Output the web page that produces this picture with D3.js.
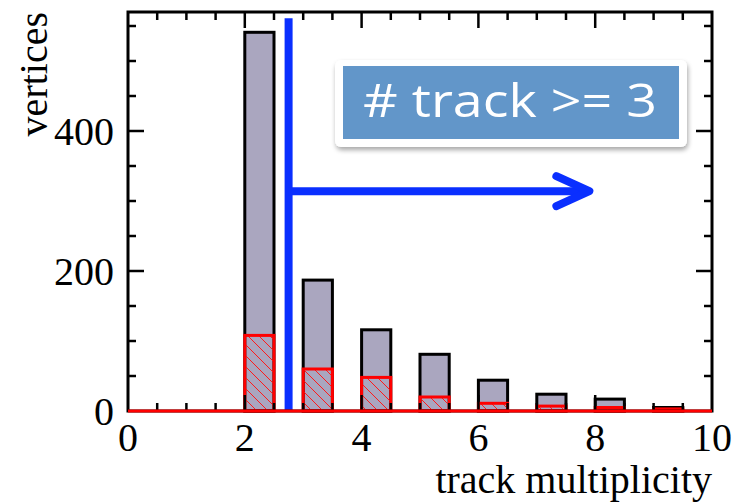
<!DOCTYPE html>
<html>
<head>
<meta charset="utf-8">
<script src="https://cdn.jsdelivr.net/npm/d3@7"></script>
<style>
  html, body { margin: 0; padding: 0; background: #fff; }
  svg { display: block; }
</style>
</head>
<body>
<svg id="chart" width="736" height="502"></svg>
<script>
// Track multiplicity per vertex: all vertices vs. selected subset
const binStarts = [0, 1, 2, 3, 4, 5, 6, 7, 8, 9];
const allVertices = [0, 0, 541, 187, 116, 81, 44, 24, 17, 5];
const selectedVertices = [0, 0, 108, 60, 48, 20, 11, 7, 5, 3];
const xTickValues = [0, 2, 4, 6, 8, 10];
const yTickValues = [0, 200, 400];
const cutValue = 2.75;
const arrowEnd = 7.9;
const arrowLevel = 314;
const cutTop = 561;
const labelText = "# track >= 3";

const svg = d3.select("#chart");
const margin = { left: 128, right: 24, top: 12, bottom: 91 };
const W = 736, H = 502;

const x = d3.scaleLinear().domain([0, 10]).range([margin.left, W - margin.right]);
const y = d3.scaleLinear().domain([0, 570]).range([H - margin.bottom, margin.top]);

const serif = "'Liberation Serif', 'Times New Roman', serif";

// hatch pattern for the selected histogram
const defs = svg.append("defs");
const pat = defs.append("pattern")
  .attr("id", "hatch")
  .attr("patternUnits", "userSpaceOnUse")
  .attr("width", 11).attr("height", 11);
pat.append("path")
  .attr("d", "M-2,-2 L13,13 M-2,9 L2,13 M9,-2 L13,2")
  .attr("stroke", "#ff1a1a").attr("stroke-width", 1);

const shadow = defs.append("filter").attr("id", "shadow")
  .attr("x", "-10%").attr("y", "-20%").attr("width", "130%").attr("height", "150%");
shadow.append("feGaussianBlur").attr("in", "SourceAlpha").attr("stdDeviation", 2.5);
shadow.append("feOffset").attr("dx", 1).attr("dy", 3).attr("result", "b");
shadow.append("feComponentTransfer").append("feFuncA").attr("type", "linear").attr("slope", 0.35);
const merge = shadow.append("feMerge");
merge.append("feMergeNode");
merge.append("feMergeNode").attr("in", "SourceGraphic");

const allData = binStarts.map((b, i) => ({ b, v: allVertices[i] })).filter(d => d.v > 0);
const selData = binStarts.map((b, i) => ({ b, v: selectedVertices[i] })).filter(d => d.v > 0);

// all vertices: grey bars with black outline
svg.append("g").selectAll("rect").data(allData).join("rect")
  .attr("x", d => x(d.b))
  .attr("y", d => y(d.v))
  .attr("width", d => x(d.b + 0.5) - x(d.b))
  .attr("height", d => y(0) - y(d.v))
  .attr("fill", "#aaa6bf")
  .attr("stroke", "#000")
  .attr("stroke-width", 3);

// selected vertices: red hatched bars
svg.append("g").selectAll("rect").data(selData).join("rect")
  .attr("x", d => x(d.b))
  .attr("y", d => y(d.v))
  .attr("width", d => x(d.b + 0.5) - x(d.b))
  .attr("height", d => y(0) - y(d.v))
  .attr("fill", "url(#hatch)")
  .attr("stroke", "#ff0000")
  .attr("stroke-width", 3);

// cut line and arrow
const blue = "#0a2fff";
svg.append("line")
  .attr("x1", x(cutValue)).attr("x2", x(cutValue))
  .attr("y1", y(cutTop)).attr("y2", y(0) - 1)
  .attr("stroke", blue).attr("stroke-width", 8);
svg.append("line")
  .attr("x1", x(cutValue)).attr("x2", x(arrowEnd) - 3)
  .attr("y1", y(arrowLevel)).attr("y2", y(arrowLevel))
  .attr("stroke", blue).attr("stroke-width", 8);
svg.append("path")
  .attr("d", `M${x(arrowEnd) - 33},${y(arrowLevel) - 15} L${x(arrowEnd)},${y(arrowLevel)} L${x(arrowEnd) - 33},${y(arrowLevel) + 15}`)
  .attr("fill", "none").attr("stroke", blue).attr("stroke-width", 8)
  .attr("stroke-linecap", "round").attr("stroke-linejoin", "round");

// frame and ticks
const frame = svg.append("g");
frame.append("rect")
  .attr("x", x(0)).attr("y", y(570))
  .attr("width", x(10) - x(0)).attr("height", y(0) - y(570))
  .attr("fill", "none").attr("stroke", "#000").attr("stroke-width", 3);

const xMinor = d3.range(0.5, 10, 0.5);
const yMinor = d3.range(50, 570, 50);
frame.selectAll(".xt").data(xMinor).join("g").each(function (v) {
  const len = Number.isInteger(v / 2) ? 16 : 8;
  const g = d3.select(this);
  g.append("line").attr("x1", x(v)).attr("x2", x(v))
    .attr("y1", y(570)).attr("y2", y(570) + len)
    .attr("stroke", "#000").attr("stroke-width", 2.5);
  g.append("line").attr("x1", x(v)).attr("x2", x(v))
    .attr("y1", y(0)).attr("y2", y(0) - len)
    .attr("stroke", "#000").attr("stroke-width", 2.5);
});
frame.selectAll(".yt").data(yMinor).join("g").each(function (v) {
  const len = v % 200 === 0 ? 16 : 8;
  const g = d3.select(this);
  g.append("line").attr("x1", x(0)).attr("x2", x(0) + len)
    .attr("y1", y(v)).attr("y2", y(v))
    .attr("stroke", "#000").attr("stroke-width", 2.5);
  g.append("line").attr("x1", x(10)).attr("x2", x(10) - len)
    .attr("y1", y(v)).attr("y2", y(v))
    .attr("stroke", "#000").attr("stroke-width", 2.5);
});

// baseline of the red histogram, drawn over the bottom frame edge
svg.append("line")
  .attr("x1", x(0)).attr("x2", x(10))
  .attr("y1", y(0)).attr("y2", y(0))
  .attr("stroke", "#ff0000").attr("stroke-width", 3);

// tick labels
svg.append("g").selectAll("text").data(xTickValues).join("text")
  .attr("x", d => x(d)).attr("y", y(0) + 40)
  .attr("text-anchor", "middle")
  .attr("font-family", serif).attr("font-size", 40)
  .text(d => d);
svg.append("g").selectAll("text").data(yTickValues).join("text")
  .attr("x", x(0) - 14).attr("y", d => y(d) + 14)
  .attr("text-anchor", "end")
  .attr("font-family", serif).attr("font-size", 40)
  .text(d => d);

// axis titles
svg.append("text")
  .attr("x", x(10)).attr("y", 493)
  .attr("text-anchor", "end")
  .attr("font-family", serif).attr("font-size", 40)
  .text("track multiplicity");
svg.append("text")
  .attr("transform", `translate(47,12) rotate(-90)`)
  .attr("text-anchor", "end")
  .attr("font-family", serif).attr("font-size", 40)
  .text("vertices");

// label box
const box = svg.append("g");
box.append("rect")
  .attr("x", 335).attr("y", 60).attr("width", 352).attr("height", 87)
  .attr("rx", 6).attr("fill", "#fff").attr("filter", "url(#shadow)");
box.append("rect")
  .attr("x", 343).attr("y", 66).attr("width", 336).attr("height", 73)
  .attr("fill", "#6296c9");
box.append("text")
  .attr("x", 363).attr("y", 117)
  .attr("font-family", "'Open Sans', 'Noto Sans', sans-serif")
  .attr("font-weight", 400)
  .attr("font-size", 45)
  .attr("fill", "#fff")
  .attr("textLength", 294)
  .attr("lengthAdjust", "spacingAndGlyphs")
  .text(labelText);
</script>
</body>
</html>
